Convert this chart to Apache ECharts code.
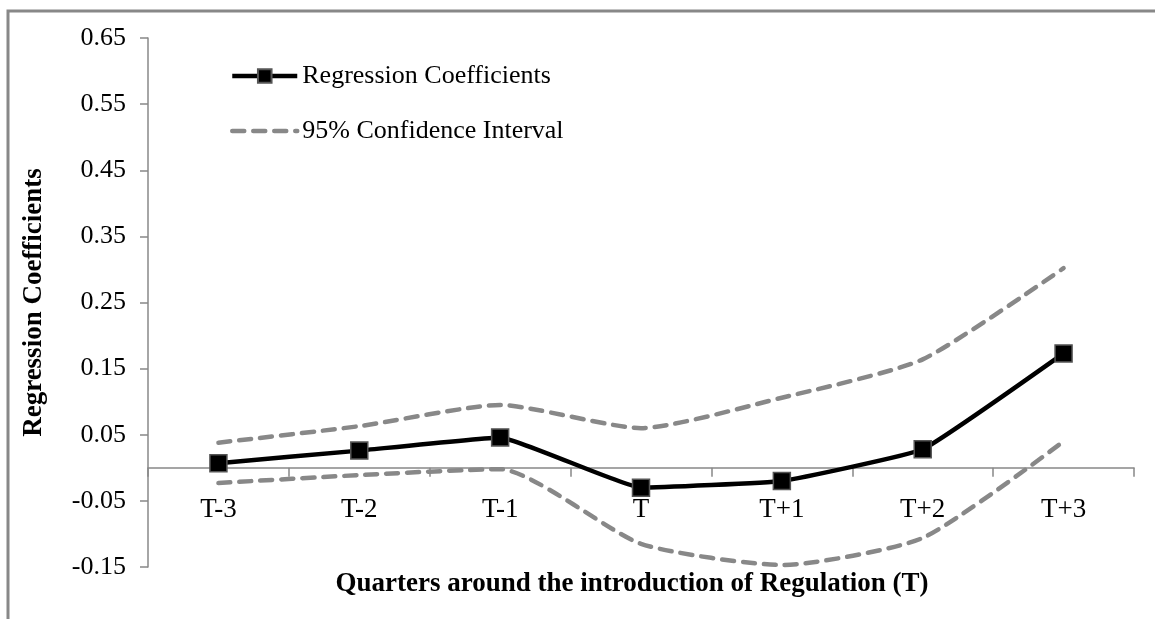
<!DOCTYPE html>
<html>
<head>
<meta charset="utf-8">
<script src="https://cdn.jsdelivr.net/npm/echarts@6/dist/echarts.min.js"></script>
<style>
html,body{margin:0;padding:0;background:#fff;}
#chart{width:1155px;height:619px;}
</style>
</head>
<body>
<div id="chart"></div>
<script>
const categories = ['T-3', 'T-2', 'T-1', 'T', 'T+1', 'T+2', 'T+3'];
const coefficients = [0.007, 0.026, 0.046, -0.030, -0.020, 0.028, 0.173];
const upperCI = [0.038, 0.063, 0.095, 0.060, 0.106, 0.164, 0.302];
const lowerCI = [-0.023, -0.011, -0.002, -0.115, -0.147, -0.106, 0.040];
const yTicks = { min: -0.15, max: 0.65, step: 0.1 };

const serif = '"Liberation Serif", "Times New Roman", serif';
const chart = echarts.init(document.getElementById('chart'));
const ciStyle = { color: '#888888', width: 4.5, type: [12, 9], cap: 'round' };

chart.setOption({
  animation: false,
  backgroundColor: '#ffffff',
  graphic: [{
    type: 'rect',
    shape: { x: 8, y: 11, width: 1300, height: 800 },
    style: { fill: 'none', stroke: '#888888', lineWidth: 3 },
    silent: true
  }],
  grid: { left: 148, right: 21, top: 38, bottom: 52, containLabel: false, outerBoundsMode: 'none' },
  legend: {
    orient: 'vertical',
    left: 225,
    top: 58,
    itemWidth: 65,
    itemHeight: 17,
    itemGap: 29,
    lineStyle: { width: 'inherit' },
    textStyle: { fontFamily: serif, fontSize: 26, color: '#000' },
    data: [
      { name: 'Regression Coefficients' },
      { name: '95% Confidence Interval', itemStyle: { opacity: 0 } }
    ]
  },
  xAxis: {
    type: 'category',
    data: categories,
    boundaryGap: true,
    axisLine: { onZero: true, lineStyle: { color: '#888888', width: 1.5 } },
    axisTick: { show: true, length: 9, inside: false, lineStyle: { color: '#888888', width: 1.5 } },
    axisLabel: { fontFamily: serif, fontSize: 27, color: '#000', margin: -71 },
    name: 'Quarters around the introduction of Regulation (T)',
    nameLocation: 'middle',
    nameGap: 4,
    nameTextStyle: { fontFamily: serif, fontSize: 27, fontWeight: 'bold', color: '#000', padding: [0, 18, 0, 0] }
  },
  yAxis: {
    type: 'value',
    min: yTicks.min,
    max: yTicks.max,
    interval: yTicks.step,
    splitLine: { show: false },
    axisLine: { show: true, lineStyle: { color: '#888888', width: 1.5 } },
    axisTick: { show: true, length: 8, lineStyle: { color: '#888888', width: 1.5 } },
    axisLabel: {
      fontFamily: serif, fontSize: 26, color: '#000', margin: 22,
      formatter: v => v.toFixed(2)
    },
    name: 'Regression Coefficients',
    nameLocation: 'middle',
    nameGap: 100,
    nameTextStyle: { fontFamily: serif, fontSize: 27, fontWeight: 'bold', color: '#000' }
  },
  series: [
    {
      name: 'Regression Coefficients',
      type: 'line',
      data: coefficients,
      smooth: 0.1,
      symbol: 'rect',
      symbolSize: 17,
      itemStyle: { color: '#000000', borderColor: '#555555', borderWidth: 1.5 },
      lineStyle: { color: '#000000', width: 4.5 },
      z: 5
    },
    {
      name: '95% Confidence Interval',
      type: 'line',
      data: upperCI,
      smooth: 0.2,
      symbol: 'none',
      itemStyle: { color: '#888888' },
      lineStyle: ciStyle
    },
    {
      name: '95% Confidence Interval',
      type: 'line',
      data: lowerCI,
      smooth: 0.2,
      symbol: 'none',
      itemStyle: { color: '#888888' },
      lineStyle: ciStyle
    }
  ]
});
</script>
</body>
</html>
